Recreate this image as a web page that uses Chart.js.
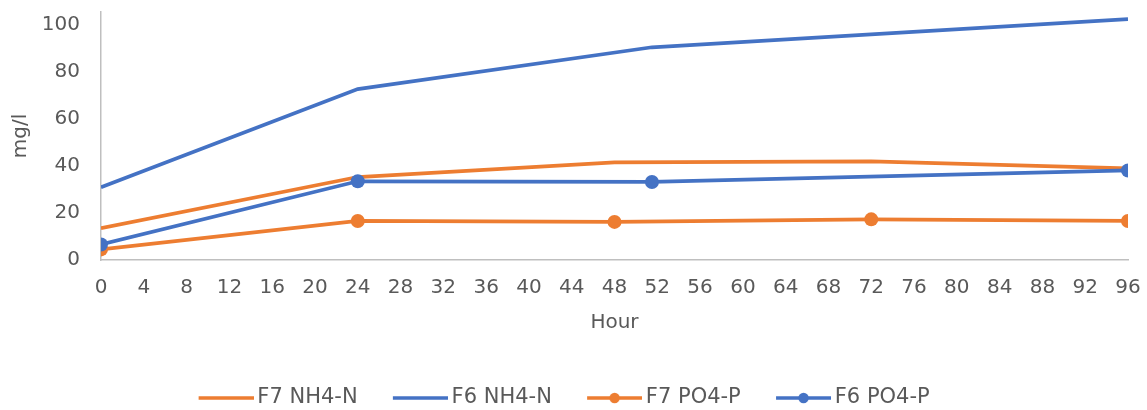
<!DOCTYPE html>
<html>
<head>
<meta charset="utf-8">
<title>mg/l by hour</title>
<script src="https://cdn.jsdelivr.net/npm/chart.js@4/dist/chart.umd.min.js"></script>
<style>
  html, body { margin: 0; padding: 0; background: #ffffff; overflow: hidden; }
  #chart { display: block; }
</style>
</head>
<body>
<canvas id="chart" width="1147" height="410"></canvas>
<script>
// Sampling hours for each filter
const hoursF7 = [0, 24, 48, 72, 96];
const hoursF6 = [0, 24, 51.5, 96];

// Concentrations (mg/l)
const f7NH4 = [13.5, 35.3, 41.5, 42.0, 39.0];
const f6NH4 = [30.9, 72.7, 90.5, 102.5];
const f7PO4 = [4.5, 16.6, 16.2, 17.3, 16.6];
const f6PO4 = [6.6, 33.5, 33.2, 38.1];

const seriesNames = ['F7 NH4-N', 'F6 NH4-N', 'F7 PO4-P', 'F6 PO4-P'];
const ORANGE = '#ED7D31';
const BLUE = '#4472C4';
const TEXT = '#595959';
const AXIS = '#BFBFBF';
const FONT = "'DejaVu Sans', Verdana, sans-serif";

function pairs(xs, ys) {
  return xs.map((x, i) => ({ x: x, y: ys[i] }));
}

// Legend swatch: a 55px line (optionally with a dot), offset inside a wider
// transparent image so the visible line starts at the legend item's left edge.
function swatch(color, withDot) {
  const c = document.createElement('canvas');
  c.width = 62;
  c.height = 14;
  const g = c.getContext('2d');
  const x0 = 7, x1 = 62;
  g.strokeStyle = color;
  g.lineWidth = 3.5;
  g.lineCap = 'butt';
  g.beginPath();
  g.moveTo(x0, 7);
  g.lineTo(x1, 7);
  g.stroke();
  if (withDot) {
    g.fillStyle = color;
    g.beginPath();
    g.arc((x0 + x1) / 2, 7, 5.2, 0, Math.PI * 2);
    g.fill();
  }
  return c;
}

const swatches = [
  swatch(ORANGE, false),
  swatch(BLUE, false),
  swatch(ORANGE, true),
  swatch(BLUE, true)
];

const datasets = [
  { label: seriesNames[0], data: pairs(hoursF7, f7NH4), borderColor: ORANGE, backgroundColor: ORANGE, pointRadius: 0, order: 4 },
  { label: seriesNames[1], data: pairs(hoursF6, f6NH4), borderColor: BLUE, backgroundColor: BLUE, pointRadius: 0, order: 3 },
  { label: seriesNames[2], data: pairs(hoursF7, f7PO4), borderColor: ORANGE, backgroundColor: ORANGE, pointRadius: 7, order: 2 },
  { label: seriesNames[3], data: pairs(hoursF6, f6PO4), borderColor: BLUE, backgroundColor: BLUE, pointRadius: 7, order: 1 }
].map(d => Object.assign({
  borderWidth: 3.75,
  pointBorderWidth: 0,
  pointHoverRadius: 7,
  tension: 0,
  fill: false
}, d));

new Chart(document.getElementById('chart'), {
  type: 'line',
  data: { datasets: datasets },
  options: {
    responsive: false,
    animation: false,
    events: [],
    layout: { padding: { left: 0, right: 19, top: 12, bottom: -8.5 } },
    plugins: {
      tooltip: { enabled: false },
      legend: {
        display: true,
        position: 'bottom',
        labels: {
          usePointStyle: true,
          pointStyleWidth: 48.5,
          padding: 35,
          color: TEXT,
          font: { family: FONT, size: 21 },
          generateLabels: (chart) => chart.data.datasets.map((ds, i) => ({
            text: ds.label,
            fillStyle: ds.borderColor,
            strokeStyle: ds.borderColor,
            fontColor: TEXT,
            lineWidth: 0,
            pointStyle: swatches[i],
            hidden: false,
            datasetIndex: i
          }))
        }
      }
    },
    scales: {
      x: {
        type: 'linear',
        min: 0,
        max: 96,
        grid: { display: false, drawTicks: true, tickLength: 16 },
        border: { display: true, color: AXIS, width: 1.5 },
        ticks: {
          stepSize: 4,
          padding: 0,
          color: TEXT,
          font: { family: FONT, size: 20 },
          maxRotation: 0,
          autoSkip: false
        },
        title: {
          display: true,
          text: 'Hour',
          color: TEXT,
          font: { family: FONT, size: 20 },
          padding: { top: 0, bottom: 17.5 }
        },
        afterFit: (scale) => { scale.height = 92.5; }
      },
      y: {
        type: 'linear',
        min: 0,
        max: 105.5,
        grid: { display: false, drawTicks: true, tickLength: 21 },
        border: { display: true, color: AXIS, width: 1.5 },
        ticks: {
          stepSize: 20,
          includeBounds: false,
          padding: 0,
          color: TEXT,
          font: { family: FONT, size: 20 }
        },
        title: {
          display: true,
          text: 'mg/l',
          color: TEXT,
          font: { family: FONT, size: 20 },
          padding: { top: 8.5, bottom: 0 }
        },
        afterFit: (scale) => { scale.width = 101; }
      }
    }
  }
});
</script>
</body>
</html>
